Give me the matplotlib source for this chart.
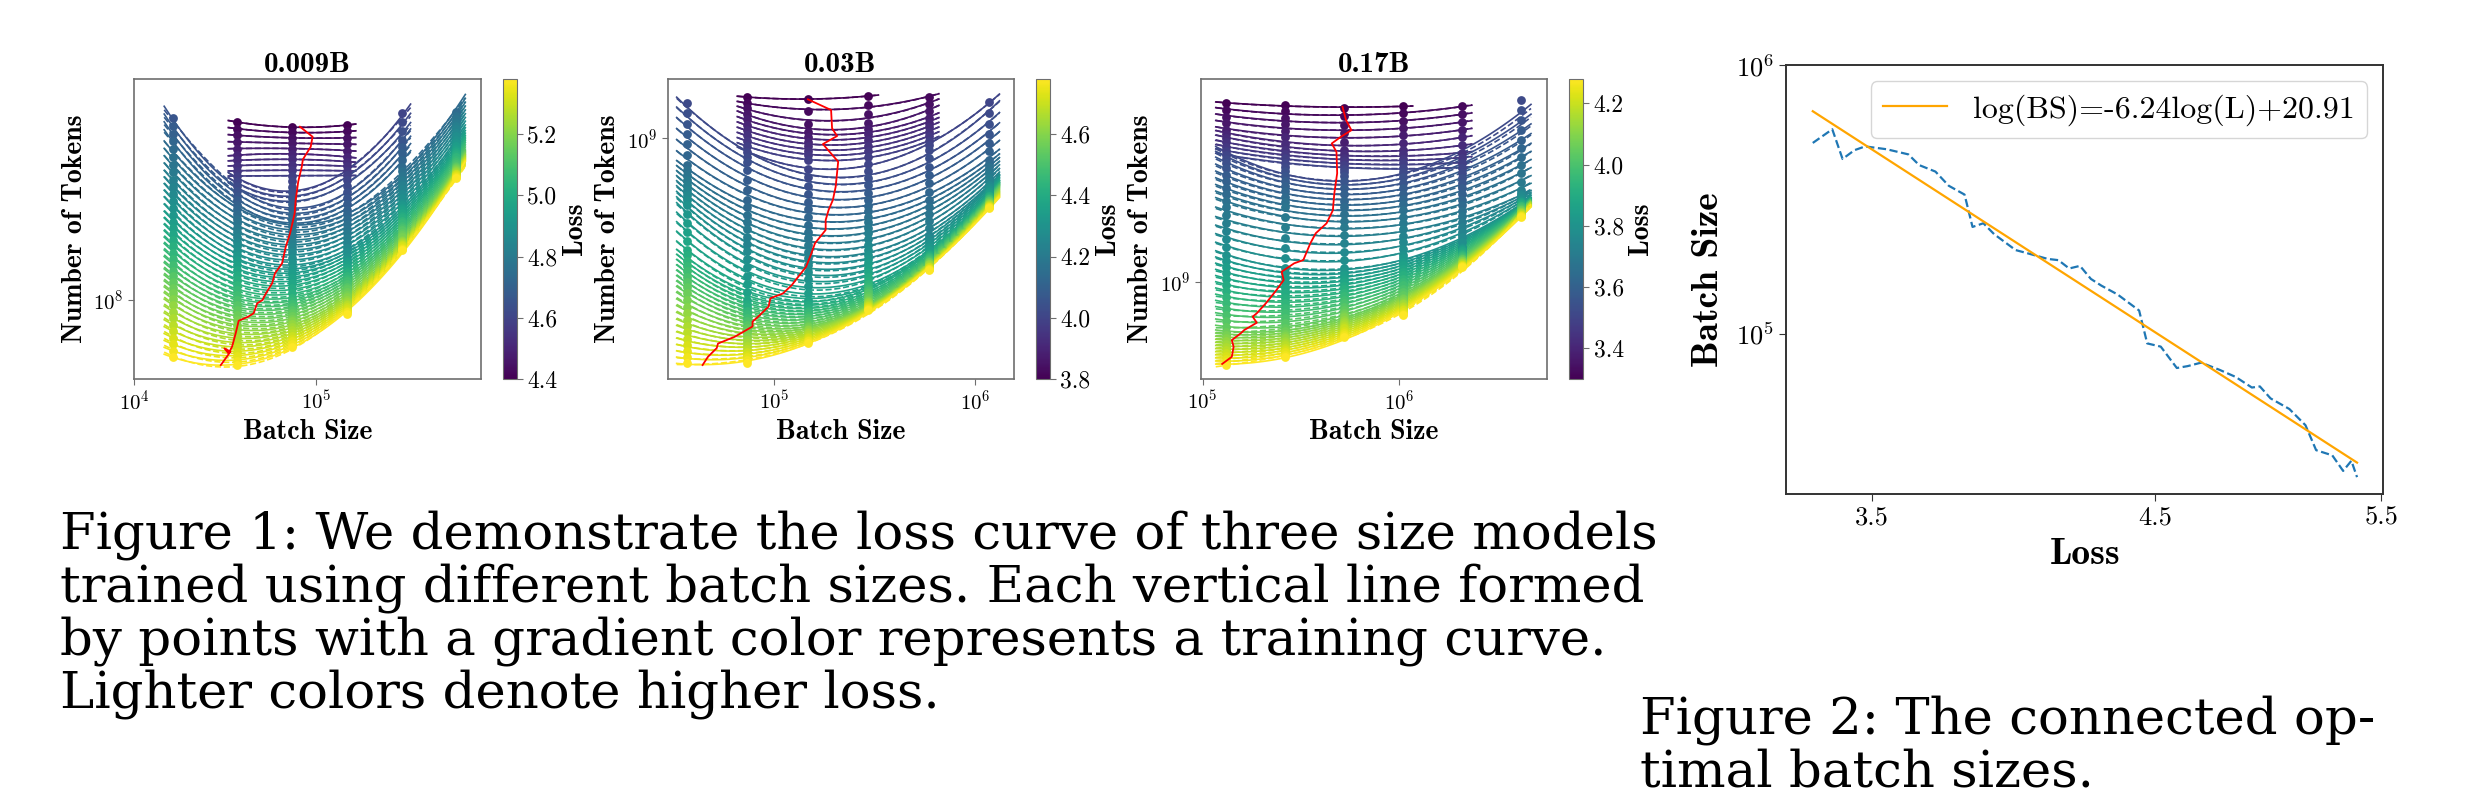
import numpy as np
import matplotlib
matplotlib.use("Agg")
import matplotlib.pyplot as plt
import matplotlib.colors as mcolors
from matplotlib.cm import ScalarMappable
from matplotlib.ticker import (FixedLocator, NullLocator, LogLocator,
                               LogFormatterMathtext, FormatStrFormatter, NullFormatter)

plt.rcParams["mathtext.fontset"] = "cm"
plt.rcParams["font.family"] = "cmr10"
plt.rcParams["axes.formatter.use_mathtext"] = True

W, H = 2482, 808

# ---------------- 0.009B ----------------
bs_009 = [16384, 36864, 73728, 147456, 294912, 589824]
# per run: loss reached (increasing) and tokens at that point
loss_009 = [
    [4.66, 4.82, 4.94, 5.08, 5.21, 5.38],
    [4.40, 4.50, 4.60, 4.68, 4.94, 5.18, 5.38],
    [4.40, 4.50, 4.60, 4.72, 4.90, 5.05, 5.38],
    [4.40, 4.50, 4.60, 4.70, 4.90, 5.22, 5.38],
    [4.60, 4.66, 4.74, 4.90, 5.05, 5.20, 5.38],
    [4.74, 4.90, 4.97, 5.13, 5.38],
]
tok_009 = [
    [4.04e8, 2.51e8, 1.82e8, 1.31e8, 0.985e8, 0.646e8],
    [3.92e8, 3.04e8, 2.49e8, 2.15e8, 1.36e8, 0.858e8, 0.607e8],
    [3.77e8, 3.07e8, 2.49e8, 1.92e8, 1.33e8, 1.00e8, 0.697e8],
    [3.83e8, 3.00e8, 2.51e8, 2.00e8, 1.39e8, 1.00e8, 0.898e8],
    [4.20e8, 3.42e8, 2.78e8, 2.11e8, 1.82e8, 1.59e8, 1.47e8],
    [4.23e8, 3.42e8, 3.16e8, 2.78e8, 2.55e8],
]
levels_009 = [4.40, 4.42, 4.44, 4.46, 4.48, 4.50, 4.52, 4.54, 4.56, 4.58,
              4.60, 4.62, 4.64, 4.66, 4.68, 4.70, 4.72, 4.74, 4.76, 4.78,
              4.80, 4.82, 4.84, 4.86, 4.88, 4.90, 4.92, 4.94, 4.96, 4.98,
              5.00, 5.02, 5.04, 5.06, 5.08, 5.10, 5.12, 5.14, 5.16, 5.18,
              5.20, 5.22, 5.24, 5.26, 5.28, 5.30, 5.32, 5.34, 5.36, 5.38]
opt_bs_009 = [8.15e4, 9.56e4, 9.34e4, 8.46e4, 8.34e4, 7.97e4, 7.72e4, 7.62e4, 7.19e4,
              6.81e4, 6.50e4, 5.94e4, 5.73e4, 5.30e4, 5.07e4, 4.74e4, 4.53e4, 4.23e4,
              3.75e4, 3.61e4, 3.45e4, 3.30e4, 3.13e4, 3.38e4, 2.99e4]
opt_tok_009 = [3.782e8, 3.502e8, 3.243e8, 2.944e8, 2.782e8, 2.479e8, 2.154e8, 1.945e8,
               1.669e8, 1.505e8, 1.326e8, 1.227e8, 1.137e8, 1.053e8, 1.0e8, 0.975e8,
               0.903e8, 0.880e8, 0.853e8, 0.774e8, 0.699e8, 0.664e8, 0.690e8, 0.673e8,
               0.607e8]

# ---------------- 0.03B ----------------
bs_03 = [36864, 73728, 147456, 294912, 589824, 1179648]
loss_03 = [
    [4.02, 4.14, 4.30, 4.40, 4.55, 4.64, 4.78],
    [3.80, 3.92, 4.05, 4.12, 4.27, 4.38, 4.55, 4.78],
    [3.80, 3.85, 3.98, 4.05, 4.14, 4.26, 4.36, 4.55, 4.78],
    [3.80, 3.86, 3.99, 4.10, 4.28, 4.43, 4.58, 4.78],
    [3.82, 3.88, 4.02, 4.14, 4.24, 4.36, 4.55, 4.78],
    [4.00, 4.05, 4.12, 4.26, 4.36, 4.56, 4.78],
]
tok_03 = [
    [1.311e9, 0.815e9, 0.599e9, 0.424e9, 0.312e9, 0.248e9, 0.178e9],
    [1.373e9, 1.066e9, 0.815e9, 0.623e9, 0.408e9, 0.289e9, 0.230e9, 0.178e9],
    [1.352e9, 1.066e9, 0.847e9, 0.673e9, 0.514e9, 0.378e9, 0.289e9, 0.239e9, 0.208e9],
    [1.384e9, 1.125e9, 0.847e9, 0.623e9, 0.424e9, 0.329e9, 0.289e9, 0.268e9],
    [1.373e9, 1.169e9, 0.914e9, 0.623e9, 0.476e9, 0.415e9, 0.387e9, 0.364e9],
    [1.321e9, 1.066e9, 0.847e9, 0.699e9, 0.647e9, 0.613e9, 0.586e9],
]
levels_03 = [3.80, 3.82, 3.84, 3.86, 3.88, 3.90, 3.92, 3.94, 3.96, 3.98,
             4.00, 4.02, 4.04, 4.06, 4.08, 4.10, 4.12, 4.14, 4.16, 4.18,
             4.20, 4.22, 4.24, 4.26, 4.28, 4.30, 4.32, 4.34, 4.36, 4.38,
             4.40, 4.42, 4.44, 4.46, 4.48, 4.50, 4.52, 4.54, 4.56, 4.58,
             4.60, 4.62, 4.64, 4.66, 4.68, 4.70, 4.72, 4.74, 4.76, 4.78]
opt_bs_03 = [1.476e5, 1.925e5, 1.947e5, 2.062e5, 1.753e5, 2.088e5, 2.029e5, 1.965e5,
             1.871e5, 1.809e5, 1.809e5, 1.601e5, 1.537e5, 1.446e5, 1.305e5, 1.227e5,
             1.109e5, 9.61e4, 9.41e4, 8.33e4, 7.83e4, 7.83e4, 6.38e4, 5.27e4, 5.20e4,
             4.70e4, 4.42e4]
opt_tok_03 = [1.349e9, 1.243e9, 1.080e9, 1.018e9, 0.957e9, 0.836e9, 0.690e9, 0.623e9,
              0.577e9, 0.534e9, 0.495e9, 0.447e9, 0.414e9, 0.373e9, 0.342e9, 0.324e9,
              0.304e9, 0.293e9, 0.275e9, 0.254e9, 0.245e9, 0.236e9, 0.218e9, 0.207e9,
              0.200e9, 0.187e9, 0.1755e9]

# ---------------- 0.17B ----------------
bs_17 = [131072, 262144, 524288, 1048576, 2097152, 4194304]
loss_17 = [
    [3.30, 3.38, 3.55, 3.68, 3.80, 4.05, 4.28],
    [3.30, 3.44, 3.55, 3.68, 3.80, 4.05, 4.28],
    [3.30, 3.40, 3.55, 3.70, 3.80, 4.05, 4.28],
    [3.30, 3.42, 3.52, 3.65, 3.80, 4.05, 4.28],
    [3.32, 3.44, 3.55, 3.70, 3.80, 4.00, 4.28],
    [3.52, 3.60, 3.72, 3.80, 4.05, 4.28],
]
tok_17 = [
    [3.942e9, 3.204e9, 2.449e9, 1.774e9, 1.227e9, 0.690e9, 0.528e9],
    [3.882e9, 2.748e9, 2.303e9, 1.774e9, 1.111e9, 0.690e9, 0.561e9],
    [3.793e9, 2.748e9, 2.216e9, 1.521e9, 1.111e9, 0.793e9, 0.654e9],
    [3.852e9, 2.748e9, 2.321e9, 1.774e9, 1.227e9, 0.889e9, 0.774e9],
    [3.852e9, 2.685e9, 2.183e9, 1.581e9, 1.305e9, 1.199e9, 1.119e9],
    [4.034e9, 2.967e9, 2.021e9, 1.872e9, 1.734e9, 1.643e9],
]
levels_17 = [3.30, 3.32, 3.34, 3.36, 3.38, 3.40, 3.42, 3.44, 3.46, 3.48,
             3.50, 3.52, 3.54, 3.56, 3.58, 3.60, 3.62, 3.64, 3.66, 3.68,
             3.70, 3.72, 3.74, 3.76, 3.78, 3.80, 3.82, 3.84, 3.86, 3.88,
             3.90, 3.92, 3.94, 3.96, 3.98, 4.00, 4.02, 4.04, 4.06, 4.08,
             4.10, 4.12, 4.14, 4.16, 4.18, 4.20, 4.22, 4.24, 4.26, 4.28]
opt_bs_17 = [5.16e5, 5.38e5, 5.73e5, 5.06e5, 4.55e5, 4.81e5, 4.85e5, 4.69e5, 4.61e5,
             4.28e5, 3.77e5, 3.54e5, 3.26e5, 2.93e5, 2.53e5, 2.59e5, 2.38e5, 2.10e5,
             1.89e5, 1.80e5, 1.89e5, 1.63e5, 1.565e5, 1.41e5, 1.44e5, 1.41e5, 1.259e5]
opt_tok_17 = [3.83e9, 3.46e9, 3.20e9, 3.04e9, 2.89e9, 2.71e9, 2.30e9, 1.97e9, 1.73e9,
              1.565e9, 1.45e9, 1.343e9, 1.181e9, 1.152e9, 1.080e9, 1.013e9, 0.938e9,
              0.847e9, 0.785e9, 0.765e9, 0.730e9, 0.690e9, 0.673e9, 0.639e9, 0.607e9,
              0.562e9, 0.532e9]

# ---------------- Figure 2: optimal batch size vs loss ----------------
opt_loss = [3.320, 3.378, 3.409, 3.445, 3.478, 3.545, 3.614, 3.649, 3.702, 3.746,
            3.799, 3.826, 3.863, 3.900, 3.975, 4.013, 4.090, 4.129, 4.169, 4.209,
            4.250, 4.290, 4.352, 4.436, 4.468, 4.522, 4.587, 4.631, 4.687, 4.765,
            4.833, 4.903, 4.938, 4.985, 5.069, 5.142, 5.191, 5.266, 5.317, 5.356, 5.383]
opt_bs = [5.14e5, 5.78e5, 4.48e5, 4.83e5, 4.99e5, 4.87e5, 4.66e5, 4.25e5, 4.02e5, 3.56e5,
          3.30e5, 2.50e5, 2.58e5, 2.35e5, 2.05e5, 2.00e5, 1.90e5, 1.88e5, 1.75e5, 1.79e5,
          1.60e5, 1.51e5, 1.40e5, 1.22e5, 9.2e4, 8.95e4, 7.45e4, 7.57e4, 7.80e4, 7.33e4,
          6.90e4, 6.30e4, 6.36e4, 5.74e4, 5.24e4, 4.56e4, 3.68e4, 3.52e4, 3.08e4, 3.36e4, 2.92e4]
fit_slope, fit_icpt = -6.24, 20.91

caption1 = ["Figure 1: We demonstrate the loss curve of three size models",
            "trained using different batch sizes. Each vertical line formed",
            "by points with a gradient color represents a training curve.",
            "Lighter colors denote higher loss."]
caption2 = ["Figure 2: The connected op-", "timal batch sizes."]


def box(x0, y0, x1, y1):
    return [x0 / W, 1 - y1 / H, (x1 - x0) / W, (y1 - y0) / H]


SPINE = "#6e6e6e"


def draw_panel(ax, cax, title, bs, run_loss, run_tok, levels, opt_b, opt_t,
               xlim, ylim, cticks):
    cmap = plt.get_cmap("viridis")
    norm = mcolors.Normalize(levels[0], levels[-1])
    logb = np.log10(bs)
    for lv in levels:
        xs, ys = [], []
        for j in range(len(bs)):
            ls = np.array(run_loss[j])
            if lv < ls.min() - 1e-9:
                continue
            xs.append(logb[j])
            ys.append(np.interp(lv, ls, np.log10(run_tok[j])))
        xs, ys = np.array(xs), np.array(ys)
        if len(xs) < 3:
            continue
        c = cmap(norm(lv))
        xx = np.linspace(xs.min() - 0.05, xs.max() + 0.05, 80)
        p = np.polyfit(xs, ys, 2)
        ax.plot(10 ** xx, 10 ** np.polyval(p, xx), color=c, lw=1.2, zorder=2)
        # second fit form T = a + b*B + c/B
        B, T = 10 ** xs, 10 ** ys
        A = np.column_stack([np.ones_like(B), B, 1 / B]) / T[:, None]
        coef = np.linalg.lstsq(A, np.ones_like(B), rcond=None)[0]
        Bx = 10 ** xx
        Tx = coef[0] + coef[1] * Bx + coef[2] / Bx
        ax.plot(Bx, np.clip(Tx, 1, None), "--", color=c, lw=1.2, zorder=2)
        ax.scatter(B, T, s=40, color=c, linewidths=0, zorder=3)
    ax.plot(opt_b, opt_t, color="red", lw=1.3, zorder=5)

    ax.set_xscale("log")
    ax.set_yscale("log")
    ax.set_xlim(*xlim)
    ax.set_ylim(*ylim)
    for axis in (ax.xaxis, ax.yaxis):
        axis.set_major_locator(LogLocator(base=10, numticks=20))
        axis.set_major_formatter(LogFormatterMathtext())
        axis.set_minor_locator(NullLocator())
        axis.set_minor_formatter(NullFormatter())
    ax.tick_params(labelsize=15, length=4, color=SPINE)
    for s in ax.spines.values():
        s.set_color(SPINE)
        s.set_linewidth(1.2)
    ax.set_title(title, fontfamily="cmb10", fontsize=21, pad=5)
    ax.set_xlabel("Batch Size", fontfamily="cmb10", fontsize=20, labelpad=4)
    ax.set_ylabel("Number of Tokens", fontfamily="cmb10", fontsize=20, labelpad=4)

    cb = plt.colorbar(ScalarMappable(norm=norm, cmap=cmap), cax=cax)
    cb.set_ticks(cticks)
    cb.ax.yaxis.set_major_formatter(FormatStrFormatter("%.1f"))
    cb.ax.tick_params(labelsize=17, length=4, color=SPINE)
    cb.outline.set_edgecolor(SPINE)
    cb.set_label("Loss", fontfamily="cmb10", fontsize=20, labelpad=3)


fig = plt.figure(figsize=(W / 100, H / 100), dpi=100)

ax1 = fig.add_axes(box(134.3, 79, 480.7, 379))
cax1 = fig.add_axes(box(502.5, 79, 516.8, 379))
draw_panel(ax1, cax1, "0.009B", bs_009, loss_009, tok_009, levels_009,
           opt_bs_009, opt_tok_009, (1e4, 8.04e5), (5.455e7, 5.455e8),
           [4.4, 4.6, 4.8, 5.0, 5.2])

ax2 = fig.add_axes(box(667.5, 79, 1013.6, 379))
cax2 = fig.add_axes(box(1035.7, 79, 1050, 379))
draw_panel(ax2, cax2, "0.03B", bs_03, loss_03, tok_03, levels_03,
           opt_bs_03, opt_tok_03, (2.958e4, 1.556e6), (1.577e8, 1.577e9),
           [3.8, 4.0, 4.2, 4.4, 4.6])

ax3 = fig.add_axes(box(1200.7, 79, 1547.1, 379))
cax3 = fig.add_axes(box(1568.6, 79, 1583.2, 379))
draw_panel(ax3, cax3, "0.17B", bs_17, loss_17, tok_17, levels_17,
           opt_bs_17, opt_tok_17, (9.79e4, 5.684e6), (4.74e8, 4.74e9),
           [3.4, 3.6, 3.8, 4.0, 4.2])

# Figure 2
ax4 = fig.add_axes(box(1786, 65.4, 2383.3, 494.3))
ax4.plot(opt_loss, opt_bs, "--", color="#1f77b4", lw=1.6)
Lfit = np.linspace(opt_loss[0], opt_loss[-1], 100)
ax4.plot(Lfit, np.exp(fit_icpt + fit_slope * np.log(Lfit)), color="orange", lw=1.6,
         label="log(BS)=-6.24log(L)+20.91")
ax4.set_xscale("log")
ax4.set_yscale("log")
ax4.set_xlim(3.242, 5.51)
ax4.set_ylim(2.52e4, 1e6)
ax4.xaxis.set_major_locator(FixedLocator([3.5, 4.5, 5.5]))
ax4.xaxis.set_major_formatter(FormatStrFormatter("%.1f"))
ax4.xaxis.set_minor_locator(NullLocator())
ax4.xaxis.set_minor_formatter(NullFormatter())
ax4.yaxis.set_major_locator(LogLocator(base=10, numticks=20))
ax4.yaxis.set_major_formatter(LogFormatterMathtext())
ax4.yaxis.set_minor_locator(NullLocator())
ax4.yaxis.set_minor_formatter(NullFormatter())
ax4.tick_params(labelsize=19, length=5, color="#333333")
for s in ax4.spines.values():
    s.set_color("#333333")
    s.set_linewidth(1.4)
ax4.set_xlabel("Loss", fontfamily="cmb10", fontsize=27, labelpad=6)
ax4.set_ylabel("Batch Size", fontfamily="cmb10", fontsize=27, labelpad=8)
ax4.legend(loc="upper right", prop={"family": "cmr10", "size": 23})

# captions (one text block each, tight TeX-like line spacing)
fig.text(60 / W, 1 - 510 / H, "\n".join(caption1), fontfamily="DejaVu Serif",
         fontsize=37, va="top", ha="left", linespacing=1.08)
fig.text(1640 / W, 1 - 695 / H, "\n".join(caption2), fontfamily="DejaVu Serif",
         fontsize=37, va="top", ha="left", linespacing=1.07)

fig.savefig("out.png", dpi=100, facecolor="white")
